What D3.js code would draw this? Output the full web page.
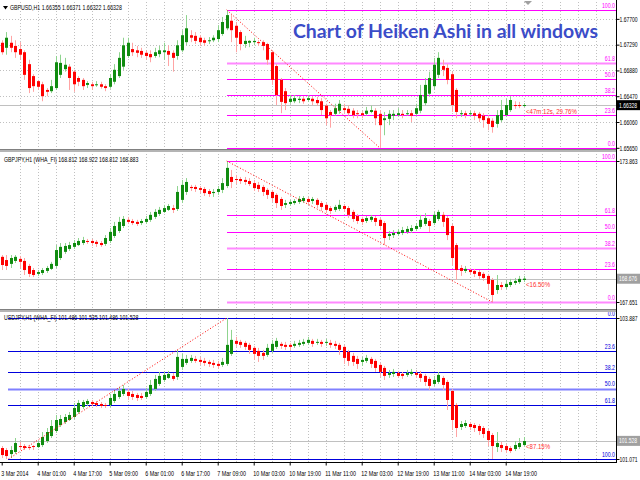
<!DOCTYPE html>
<html><head><meta charset="utf-8">
<script src="https://cdn.jsdelivr.net/npm/d3@7"></script>
<style>
body{margin:0;background:#fff}
svg{display:block}
.sm{font-family:"Liberation Sans",Arial,sans-serif;font-size:7px}
</style>
</head><body><svg id="c" width="640" height="480"></svg>
<script>
// ---------------- DATA ----------------
const timeLabels = ["3 Mar 2014","4 Mar 01:00","4 Mar 17:00","5 Mar 09:00","6 Mar 01:00","6 Mar 17:00","7 Mar 09:00","10 Mar 03:00","10 Mar 19:00","11 Mar 11:00","12 Mar 03:00","12 Mar 19:00","13 Mar 11:00","14 Mar 03:00","14 Mar 19:00"];
const timeLabelHours = [0,16,32,48,64,80,96,112,128,144,160,176,192,208,224];
const barHours = d3.range(0, 233, 2); // one Heiken Ashi candle every 2 hours

// [open, high, low, close]
const gbpusd = [
[1.6732,1.6736,1.6713,1.6717],[1.6724,1.6749,1.6713,1.6740],[1.6732,1.6743,1.6717,1.6724],[1.6727,1.6736,1.6708,1.6717],[1.6722,1.6733,1.6705,1.6713],
[1.6717,1.6720,1.6673,1.6681],[1.6698,1.6705,1.6652,1.6660],[1.6679,1.6682,1.6654,1.6663],[1.6671,1.6673,1.6657,1.6662],[1.6666,1.6670,1.6639,1.6647],
[1.6657,1.6660,1.6647,1.6654],[1.6655,1.6673,1.6652,1.6663],[1.6660,1.6711,1.6657,1.6701],[1.6681,1.6713,1.6676,1.6700],[1.6690,1.6708,1.6686,1.6697],
[1.6694,1.6698,1.6657,1.6676],[1.6686,1.6689,1.6654,1.6666],[1.6676,1.6679,1.6663,1.6670],[1.6673,1.6676,1.6657,1.6663],[1.6665,1.6671,1.6660,1.6668],
[1.6666,1.6670,1.6657,1.6663],[1.6665,1.6671,1.6662,1.6666],[1.6666,1.6670,1.6659,1.6662],[1.6663,1.6666,1.6655,1.6660],[1.6662,1.6682,1.6659,1.6676],
[1.6670,1.6698,1.6666,1.6689],[1.6679,1.6717,1.6676,1.6708],[1.6694,1.6740,1.6689,1.6728],[1.6711,1.6740,1.6708,1.6732],[1.6722,1.6732,1.6711,1.6717],
[1.6720,1.6727,1.6709,1.6716],[1.6719,1.6724,1.6708,1.6713],[1.6716,1.6720,1.6705,1.6711],[1.6714,1.6720,1.6701,1.6709],[1.6711,1.6724,1.6708,1.6717],
[1.6714,1.6727,1.6709,1.6720],[1.6717,1.6732,1.6705,1.6720],[1.6719,1.6728,1.6695,1.6713],[1.6716,1.6720,1.6686,1.6708],[1.6711,1.6736,1.6705,1.6728],
[1.6720,1.6752,1.6717,1.6744],[1.6733,1.6776,1.6728,1.6755],[1.6744,1.6752,1.6733,1.6740],[1.6743,1.6749,1.6730,1.6735],[1.6740,1.6744,1.6727,1.6733],
[1.6736,1.6740,1.6727,1.6732],[1.6735,1.6741,1.6730,1.6736],[1.6736,1.6744,1.6733,1.6740],[1.6738,1.6760,1.6733,1.6752],[1.6746,1.6773,1.6743,1.6765],
[1.6755,1.6784,1.6752,1.6776],[1.6767,1.6776,1.6733,1.6752],[1.6759,1.6765,1.6717,1.6740],[1.6749,1.6752,1.6720,1.6730],[1.6730,1.6743,1.6724,1.6735],
[1.6732,1.6736,1.6725,1.6735],[1.6733,1.6740,1.6728,1.6735],[1.6733,1.6736,1.6727,1.6732],[1.6733,1.6736,1.6720,1.6727],[1.6730,1.6732,1.6697,1.6705],
[1.6717,1.6720,1.6665,1.6673],[1.6695,1.6698,1.6633,1.6649],[1.6673,1.6676,1.6620,1.6638],[1.6655,1.6660,1.6625,1.6636],[1.6638,1.6649,1.6635,1.6643],
[1.6639,1.6649,1.6636,1.6644],[1.6641,1.6647,1.6636,1.6643],[1.6643,1.6647,1.6635,1.6639],[1.6641,1.6649,1.6638,1.6644],[1.6643,1.6646,1.6633,1.6639],
[1.6641,1.6646,1.6632,1.6636],[1.6639,1.6644,1.6617,1.6625],[1.6632,1.6635,1.6601,1.6612],[1.6622,1.6625,1.6597,1.6617],[1.6619,1.6635,1.6616,1.6628],
[1.6624,1.6641,1.6619,1.6635],[1.6628,1.6635,1.6620,1.6625],[1.6627,1.6632,1.6616,1.6620],[1.6624,1.6628,1.6612,1.6617],[1.6620,1.6625,1.6612,1.6619],
[1.6620,1.6624,1.6612,1.6617],[1.6619,1.6630,1.6616,1.6624],[1.6622,1.6632,1.6620,1.6625],[1.6624,1.6628,1.6601,1.6612],[1.6619,1.6625,1.6565,1.6601],
[1.6609,1.6622,1.6585,1.6612],[1.6611,1.6625,1.6601,1.6619],[1.6616,1.6625,1.6609,1.6619],[1.6617,1.6628,1.6614,1.6620],[1.6619,1.6625,1.6612,1.6617],
[1.6619,1.6625,1.6616,1.6620],[1.6620,1.6625,1.6606,1.6616],[1.6619,1.6635,1.6616,1.6628],[1.6624,1.6665,1.6620,1.6649],[1.6636,1.6676,1.6632,1.6665],
[1.6651,1.6686,1.6647,1.6676],[1.6663,1.6708,1.6657,1.6697],[1.6681,1.6717,1.6676,1.6708],[1.6695,1.6705,1.6679,1.6689],[1.6692,1.6698,1.6666,1.6673],
[1.6682,1.6686,1.6622,1.6633],[1.6657,1.6660,1.6612,1.6622],[1.6619,1.6625,1.6614,1.6620],[1.6620,1.6624,1.6612,1.6617],[1.6619,1.6624,1.6616,1.6620],
[1.6620,1.6624,1.6609,1.6616],[1.6619,1.6622,1.6606,1.6612],[1.6616,1.6620,1.6597,1.6609],[1.6612,1.6617,1.6593,1.6603],[1.6608,1.6612,1.6589,1.6598],
[1.6603,1.6625,1.6597,1.6617],[1.6609,1.6641,1.6606,1.6625],[1.6617,1.6643,1.6614,1.6633],[1.6625,1.6647,1.6622,1.6641],[1.6633,1.6639,1.6627,1.6632],
[1.6633,1.6638,1.6628,1.6632],[1.6632,1.6636,1.6630,1.6633]
];
const gbpjpy = [
[169.64,169.72,169.06,169.28],[169.50,169.72,169.06,169.24],[169.33,169.72,169.15,169.59],[169.46,169.72,169.37,169.64],[169.55,169.68,169.15,169.42],
[169.46,169.59,168.84,169.06],[169.24,169.33,168.75,168.89],[169.06,169.15,168.75,168.84],[168.89,169.06,168.80,168.97],[168.93,169.15,168.84,169.06],
[169.02,169.24,168.93,169.15],[169.11,169.42,169.06,169.33],[169.24,170.16,169.15,169.94],[169.59,170.25,169.50,170.08],[169.86,170.25,169.77,170.12],
[169.99,170.30,169.90,170.16],[170.08,170.38,169.99,170.25],[170.16,170.47,170.12,170.34],[170.25,170.52,170.16,170.38],[170.34,170.43,170.21,170.30],
[170.34,170.43,170.12,170.25],[170.30,170.38,170.08,170.21],[170.25,170.34,170.08,170.16],[170.21,170.60,170.12,170.47],[170.34,170.91,170.25,170.74],
[170.56,171.18,170.47,171.00],[170.78,171.40,170.69,171.18],[171.00,171.44,170.91,171.31],[171.27,171.40,171.09,171.18],[171.22,171.31,171.04,171.13],
[171.18,171.27,171.00,171.09],[171.13,171.31,171.04,171.22],[171.18,171.44,171.09,171.31],[171.27,171.62,171.18,171.49],[171.40,171.75,171.31,171.62],
[171.53,171.84,171.44,171.71],[171.62,171.93,171.57,171.79],[171.71,171.97,171.66,171.88],[171.79,171.93,171.57,171.71],[171.75,172.76,171.66,172.50],
[172.15,173.03,172.01,172.81],[172.50,173.11,172.37,172.94],[172.72,172.81,172.54,172.67],[172.72,172.81,172.50,172.63],[172.67,172.76,172.45,172.59],
[172.63,172.72,172.32,172.45],[172.54,172.63,172.28,172.41],[172.45,172.63,172.28,172.50],[172.50,172.76,172.37,172.63],[172.59,173.11,172.45,172.89],
[172.76,173.86,172.67,173.56],[173.16,173.47,172.67,172.94],[173.07,173.25,172.85,173.03],[173.07,173.16,172.85,172.98],[173.03,173.16,172.81,172.94],
[172.98,173.11,172.76,172.85],[172.89,173.03,172.54,172.67],[172.81,172.94,172.50,172.63],[172.72,172.81,172.32,172.50],[172.59,172.67,172.19,172.37],
[172.50,172.59,172.06,172.23],[172.37,172.45,171.79,172.01],[172.19,172.28,171.71,171.88],[171.93,172.15,171.79,172.01],[171.97,172.15,171.88,172.06],
[172.01,172.19,171.93,172.10],[172.06,172.32,171.97,172.19],[172.10,172.32,172.01,172.23],[172.19,172.28,171.93,172.06],[172.10,172.28,171.97,172.19],
[172.15,172.23,171.79,171.93],[172.01,172.10,171.66,171.84],[171.93,172.01,171.57,171.71],[171.79,171.88,171.53,171.66],[171.71,171.93,171.62,171.84],
[171.75,172.15,171.66,171.93],[171.88,171.97,171.62,171.75],[171.79,171.88,171.35,171.49],[171.62,171.71,171.18,171.31],[171.44,171.53,171.09,171.22],
[171.31,171.40,171.04,171.18],[171.22,171.44,171.13,171.35],[171.27,171.49,171.18,171.40],[171.35,171.44,171.00,171.18],[171.27,171.35,170.82,171.00],
[171.13,171.22,170.16,170.47],[170.56,170.78,170.38,170.65],[170.60,170.82,170.47,170.69],[170.65,170.87,170.56,170.74],[170.69,170.96,170.60,170.82],
[170.74,171.00,170.65,170.87],[170.78,171.04,170.69,170.91],[170.87,171.13,170.78,171.00],[170.96,171.49,170.87,171.27],[171.09,171.57,171.00,171.35],
[171.22,171.31,170.74,171.00],[171.13,171.62,171.04,171.49],[171.31,171.71,171.22,171.62],[171.49,171.62,170.96,171.18],[171.35,171.44,170.38,170.60],
[171.00,171.09,169.28,169.59],[170.16,170.25,168.62,169.06],[169.15,169.28,168.80,169.02],[169.02,169.24,168.93,169.11],[169.06,169.15,168.84,168.97],
[169.02,169.11,168.75,168.89],[168.97,169.06,168.67,168.80],[168.89,168.97,168.58,168.71],[168.80,168.89,168.18,168.45],[168.62,168.71,167.65,167.96],
[168.18,168.84,168.01,168.40],[168.40,168.53,168.18,168.31],[168.31,168.62,168.22,168.45],[168.40,168.67,168.31,168.53],[168.49,168.71,168.40,168.58],
[168.53,168.80,168.45,168.67],[168.62,168.80,168.53,168.68]
];
const usdjpy = [
[101.29,101.33,101.09,101.15],[101.25,101.29,101.07,101.13],[101.17,101.33,101.09,101.25],[101.21,101.49,101.17,101.39],[101.33,101.41,101.25,101.31],
[101.33,101.37,101.25,101.29],[101.31,101.35,101.25,101.29],[101.33,101.35,101.25,101.31],[101.31,101.43,101.29,101.39],[101.35,101.61,101.31,101.51],
[101.43,101.69,101.39,101.61],[101.53,101.85,101.49,101.73],[101.63,101.95,101.59,101.85],[101.75,101.95,101.71,101.87],[101.81,101.97,101.77,101.91],
[101.85,102.01,101.83,101.95],[101.91,102.19,101.87,102.09],[102.01,102.25,101.97,102.19],[102.11,102.25,102.07,102.21],[102.17,102.27,102.13,102.23],
[102.21,102.25,102.13,102.17],[102.19,102.23,102.11,102.15],[102.17,102.21,102.09,102.13],[102.15,102.19,102.09,102.13],[102.15,102.37,102.11,102.29],
[102.23,102.45,102.19,102.37],[102.31,102.51,102.27,102.43],[102.37,102.55,102.33,102.47],[102.41,102.47,102.25,102.33],[102.37,102.43,102.25,102.31],
[102.35,102.39,102.23,102.29],[102.33,102.39,102.25,102.29],[102.31,102.49,102.27,102.41],[102.37,102.65,102.33,102.55],[102.47,102.75,102.43,102.67],
[102.57,102.81,102.53,102.73],[102.65,102.81,102.61,102.75],[102.69,102.83,102.67,102.77],[102.73,102.79,102.63,102.67],[102.71,103.25,102.65,103.11],
[102.91,103.17,102.85,103.07],[102.99,103.15,102.95,103.07],[103.03,103.15,102.99,103.09],[103.07,103.13,102.99,103.03],[103.05,103.11,102.95,103.01],
[103.03,103.09,102.93,102.99],[103.01,103.05,102.91,102.97],[102.99,103.05,102.89,102.95],[102.97,103.03,102.87,102.93],[102.95,103.09,102.91,103.01],
[102.97,103.887,102.93,103.35],[103.17,103.65,103.13,103.45],[103.43,103.51,103.31,103.37],[103.41,103.45,103.29,103.35],[103.39,103.43,103.25,103.31],
[103.35,103.39,103.17,103.25],[103.29,103.33,103.05,103.17],[103.23,103.29,103.01,103.13],[103.19,103.25,103.05,103.13],[103.15,103.37,103.11,103.29],
[103.23,103.45,103.19,103.37],[103.31,103.49,103.27,103.43],[103.37,103.41,103.27,103.33],[103.35,103.41,103.25,103.31],[103.35,103.39,103.25,103.31],
[103.33,103.43,103.29,103.37],[103.35,103.45,103.31,103.39],[103.37,103.47,103.33,103.41],[103.39,103.51,103.35,103.45],[103.43,103.47,103.31,103.37],
[103.39,103.47,103.35,103.41],[103.41,103.45,103.31,103.37],[103.39,103.47,103.33,103.41],[103.39,103.45,103.29,103.35],[103.37,103.43,103.27,103.33],
[103.35,103.39,103.15,103.25],[103.31,103.35,102.97,103.09],[103.21,103.25,102.93,103.03],[103.13,103.19,102.93,103.01],[103.07,103.13,102.87,102.97],
[103.01,103.11,102.93,103.05],[103.03,103.15,102.99,103.09],[103.07,103.11,102.89,102.97],[103.03,103.07,102.81,102.89],[102.95,102.99,102.71,102.81],
[102.89,102.93,102.65,102.73],[102.75,102.85,102.69,102.79],[102.77,102.87,102.71,102.81],[102.79,102.83,102.69,102.73],[102.77,102.81,102.67,102.73],
[102.75,102.85,102.71,102.79],[102.77,102.87,102.73,102.81],[102.79,102.85,102.69,102.75],[102.77,102.83,102.61,102.69],[102.73,102.77,102.53,102.61],
[102.67,102.71,102.45,102.53],[102.57,102.73,102.53,102.65],[102.61,102.81,102.57,102.75],[102.69,102.73,102.45,102.55],[102.61,102.65,102.05,102.25],
[102.43,102.47,101.65,101.85],[102.15,102.19,101.51,101.69],[101.71,101.83,101.65,101.77],[101.73,101.85,101.69,101.79],[101.77,101.81,101.65,101.71],
[101.75,101.79,101.61,101.69],[101.73,101.77,101.55,101.63],[101.69,101.73,101.49,101.57],[101.63,101.67,101.33,101.45],[101.55,101.59,101.071,101.33],
[101.31,101.61,101.21,101.39],[101.35,101.41,101.21,101.29],[101.33,101.37,101.19,101.25],[101.29,101.33,101.19,101.23],[101.27,101.43,101.23,101.35],
[101.31,101.49,101.27,101.39],[101.35,101.51,101.33,101.43]
];

const fibLevels = [0, 23.6, 38.2, 50, 61.8, 100];
const gbpusdTicks = [1.67700, 1.67290, 1.66880, 1.66470, 1.66060, 1.65650];
const gbpjpyTicks = [173.863, 167.651];
const usdjpyTicks = [103.887, 101.071];

// ---------------- DRAW ----------------
const svg = d3.select("#c");
const axisX = 616.5;
const x = d3.scaleLinear().domain([0, 256]).range([1.7, 577.7]);
const gridHours = d3.range(8, 270, 8).filter(h => x(h) < 612);

// MT4 uses a condensed small font: squeeze text horizontally around its anchor x
function condense(sel, k) {
  k = k || 0.75;
  sel.each(function() {
    const el = d3.select(this);
    const x0 = +el.attr("x") || 0;
    el.attr("transform", `translate(${x0},0) scale(${k},1) translate(${-x0},0)`);
  });
}

const panes = [
  {data: gbpusd, dom:[1.6565, 1.6800], rng:[147.8, 0], top:0, bottom:149,
   header:"GBPUSD,H1  1.66355 1.66371 1.66322 1.66328", hx:10, hy:10.5, arrow:true,
   ticks:gbpusdTicks, fmt:d3.format(".5f"), hgrid:true,
   fibFrom:{t:100, p:1.67843}, fibTo:{t:168, p:1.65650},
   fibColor:"#ff00ff", fibLight:"#ff88ff", lightLevels:[61.8],
   cur:1.66328, curText:"1.66328", curBox:"#000", curTextCol:"#fff", pct:"<47m 12s, 29.76%"},
  {data: gbpjpy, dom:[167.651, 173.863], rng:[302, 161], top:152, bottom:309,
   header:"GBPJPY,H1 (WHA_FI) 168.812 168.922 168.812 168.883", hx:4, hy:162.5, arrow:false,
   ticks:gbpjpyTicks, fmt:d3.format(".3f"), hgrid:false,
   fibFrom:{t:100, p:173.863}, fibTo:{t:218, p:167.651},
   fibColor:"#ff00ff", fibLight:"#ff88ff", lightLevels:[38.2, 0],
   cur:168.676, curText:"168.676", curBox:"#a0a0a0", curTextCol:"#fff", pct:"<16.50%"},
  {data: usdjpy, dom:[101.071, 103.887], rng:[459, 318], top:312, bottom:462,
   header:"USDJPY,H1 (WHA_FI) 101.486 101.535 101.486 101.528", hx:4, hy:320.5, arrow:false,
   ticks:usdjpyTicks, fmt:d3.format(".3f"), hgrid:false,
   fibFrom:{t:3, p:101.071}, fibTo:{t:100, p:103.887},
   fibColor:"#0000dd", fibLight:"#8080ff", lightLevels:[50],
   cur:101.433, curText:"101.528", curBox:"#a0a0a0", curTextCol:"#fff", pct:"<87.15%"}
];

panes.forEach(p => {
  const y = d3.scaleLinear().domain(p.dom).range(p.rng);
  const g = svg.append("g");
  const cy = v => Math.round(y(v)) + 0.5;

  // vertical dotted grid
  g.selectAll(".vg").data(gridHours).join("line")
    .attr("x1", d => Math.round(x(d)) + 0.5).attr("x2", d => Math.round(x(d)) + 0.5)
    .attr("y1", p.top + 2).attr("y2", p.bottom)
    .attr("stroke", "#c0c0c0").attr("stroke-dasharray", "1,2");
  // horizontal dotted grid
  if (p.hgrid) {
    g.selectAll(".hg").data(p.ticks.slice(0, -1)).join("line")
      .attr("x1", 0).attr("x2", axisX).attr("y1", cy).attr("y2", cy)
      .attr("stroke", "#c0c0c0").attr("stroke-dasharray", "1,2");
  }
  // current price line
  g.append("line").attr("x1", 0).attr("x2", axisX)
    .attr("y1", cy(p.cur)).attr("y2", cy(p.cur)).attr("stroke", "#c0c0c0");

  // fibonacci levels
  const lvPrice = pct => p.fibTo.p + (p.fibFrom.p - p.fibTo.p) * pct / 100;
  const xs = Math.round(x(p.fibFrom.t));
  g.selectAll(".fl").data(fibLevels).join("line")
    .attr("x1", xs).attr("x2", axisX - 0.5)
    .attr("y1", d => cy(lvPrice(d))).attr("y2", d => cy(lvPrice(d)))
    .attr("stroke", d => p.lightLevels.includes(d) ? p.fibLight : p.fibColor)
    .attr("stroke-width", d => p.lightLevels.includes(d) ? 2 : 1);
  g.selectAll(".ft").data(fibLevels).join("text").attr("class", "sm")
    .attr("x", 615).attr("y", d => y(lvPrice(d)) - 2)
    .attr("text-anchor", "end").attr("fill", p.fibColor)
    .text(d => d3.format(".1f")(d)).call(condense);

  // Heiken Ashi candles
  const cg = g.append("g");
  p.data.forEach((d, i) => {
    const [o, h, l, c] = d;
    const up = c >= o;
    const xc = Math.round(x(barHours[i])) + 0.5;
    cg.append("line").attr("x1", xc).attr("x2", xc)
      .attr("y1", y(h)).attr("y2", y(l))
      .attr("stroke", up ? "#8fd48f" : "#ffa4a4").attr("stroke-width", 1);
    const y0 = Math.min(y(o), y(c)), y1 = Math.max(y(o), y(c));
    cg.append("rect").attr("x", xc - 1.5).attr("width", 3)
      .attr("y", y0).attr("height", Math.max(1, y1 - y0))
      .attr("fill", up ? "#108c10" : "#ff0000");
  });

  // diagonal trend line of the Fibonacci tool
  g.append("line")
    .attr("x1", x(p.fibFrom.t)).attr("y1", y(p.fibFrom.p))
    .attr("x2", x(p.fibTo.t)).attr("y2", y(p.fibTo.p))
    .attr("stroke", "#ff0000").attr("stroke-dasharray", "1,2");

  // percent label
  g.append("text").attr("class", "sm").attr("x", 526).attr("y", y(p.cur) + 8.5)
    .attr("fill", "#ff3030").style("font-size", "8px").text(p.pct).call(condense, 0.76);

  // header
  if (p.arrow) g.append("path").attr("d", `M3,6 L8,6 L5.5,9.5 Z`).attr("fill", "#000");
  g.append("text").attr("class", "sm").attr("x", p.hx).attr("y", p.hy).attr("fill", "#000").text(p.header).call(condense);

  // price axis
  const ax = g.append("g").attr("transform", `translate(${axisX},0)`)
    .call(d3.axisRight(y).tickValues(p.ticks).tickFormat(p.fmt).tickSize(3).tickPadding(0));
  ax.select(".domain").remove();
  ax.selectAll("text").attr("class", "sm").attr("fill", "#000").attr("dy", "0.32em").call(condense, 0.72);
  ax.selectAll("line").attr("stroke", "#000");

  // current price box
  g.append("rect").attr("x", 617).attr("y", y(p.cur) - 5).attr("width", 23).attr("height", 10).attr("fill", p.curBox);
  g.append("text").attr("class", "sm").attr("x", 619).attr("y", y(p.cur) + 2.5).attr("fill", p.curTextCol).text(p.curText).call(condense, 0.72);
});

// title
svg.append("text").attr("x", 293).attr("y", 37.5)
  .attr("textLength", 305).attr("lengthAdjust", "spacingAndGlyphs")
  .style("font-family", "Lato, 'Open Sans', sans-serif").style("font-weight", 700).style("font-size", "19px")
  .attr("fill", "#3b4cc8").text("Chart of Heiken Ashi in all windows");

// chart shift marker
svg.append("path").attr("d", "M524,1 L532,1 L528,5 Z").attr("fill", "#a0a0a0");

// pane separators
[149, 309].forEach(s => {
  svg.append("rect").attr("x", 0).attr("y", s).attr("width", axisX).attr("height", 3).attr("fill", "#b4b4b4");
  svg.append("line").attr("x1", 0).attr("x2", axisX).attr("y1", s + 0.5).attr("y2", s + 0.5).attr("stroke", "#808080");
});

// right axis line and bottom line
svg.append("line").attr("x1", axisX).attr("x2", axisX).attr("y1", 0).attr("y2", 463).attr("stroke", "#000");
svg.append("line").attr("x1", 0).attr("x2", axisX).attr("y1", 462.5).attr("y2", 462.5).attr("stroke", "#000");

// time axis
const tx = svg.append("g").attr("transform", "translate(0,462.5)")
  .call(d3.axisBottom(x).tickValues(timeLabelHours).tickFormat((d, i) => timeLabels[i]).tickSize(3).tickPadding(0));
tx.select(".domain").remove();
tx.selectAll("line").attr("stroke", "#000");
tx.selectAll("text").attr("class", "sm").attr("fill", "#000").attr("text-anchor", "start")
  .attr("x", -1).attr("y", 13.5).attr("dy", 0).call(condense, 0.77);
</script>
</body></html>
